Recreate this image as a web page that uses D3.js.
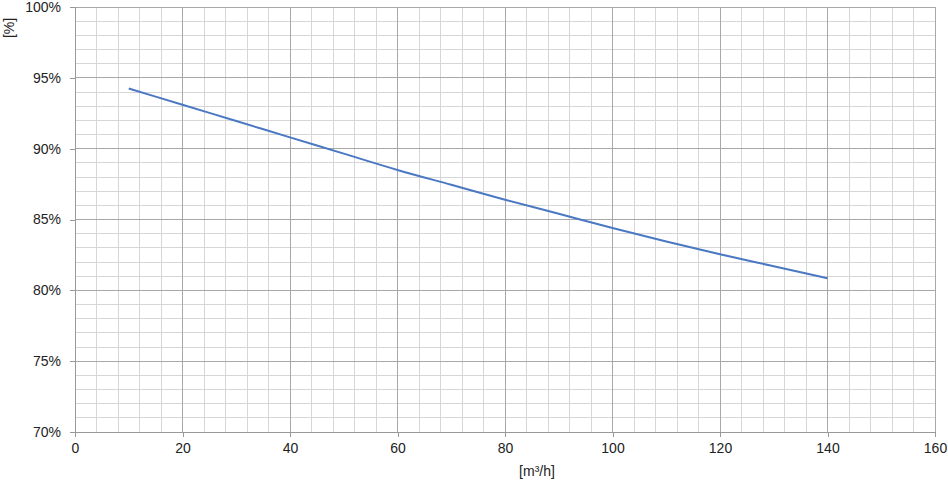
<!DOCTYPE html>
<html><head><meta charset="utf-8">
<script src="https://cdn.jsdelivr.net/npm/d3@7"></script>
<style>body{margin:0;background:#fff}svg{display:block}text{font-family:"Liberation Sans",Arial,sans-serif;fill:#222}</style>
</head><body>
<svg id="c" width="948" height="486"></svg>
<script>
const flowRate = [10, 20, 30, 40, 50, 60, 70, 80, 90, 100, 110, 120, 130, 140];
const efficiency = [94.25, 93.1, 91.95, 90.8, 89.65, 88.5, 87.45, 86.4, 85.4, 84.4, 83.45, 82.55, 81.7, 80.85];
const xTicks = [0, 20, 40, 60, 80, 100, 120, 140, 160];
const yTicks = [70, 75, 80, 85, 90, 95, 100];
const xLabel = "[m³/h]";
const yLabel = "[%]";

const svg = d3.select("#c");
const m = {l: 75, r: 13, t: 7, b: 54};
const W = 948, H = 486;
const x = d3.scaleLinear().domain([0, 160]).range([m.l, W - m.r]);
const y = d3.scaleLinear().domain([70, 100]).range([H - m.b, m.t]);

const g = svg.append("g");
// minor grid
const xMinor = d3.range(0, 161, 4).filter(v => v % 20 !== 0);
const yMinor = d3.range(70, 101, 1).filter(v => v % 5 !== 0);
g.selectAll(".xm").data(xMinor).join("line")
  .attr("x1", d => x(d)).attr("x2", d => x(d)).attr("y1", y(70)).attr("y2", y(100))
  .attr("stroke", "#d6d6d6").attr("stroke-width", 1).attr("shape-rendering", "crispEdges");
g.selectAll(".ym").data(yMinor).join("line")
  .attr("y1", d => y(d)).attr("y2", d => y(d)).attr("x1", x(0)).attr("x2", x(160))
  .attr("stroke", "#d6d6d6").attr("stroke-width", 1).attr("shape-rendering", "crispEdges");
// major grid
g.selectAll(".xM").data(xTicks).join("line")
  .attr("x1", d => x(d)).attr("x2", d => x(d)).attr("y1", y(70)).attr("y2", y(100))
  .attr("stroke", "#a8a8a8").attr("stroke-width", 1).attr("shape-rendering", "crispEdges");
g.selectAll(".yM").data(yTicks).join("line")
  .attr("y1", d => y(d)).attr("y2", d => y(d)).attr("x1", x(0)).attr("x2", x(160))
  .attr("stroke", "#a8a8a8").attr("stroke-width", 1).attr("shape-rendering", "crispEdges");

// axes
const xAxis = d3.axisBottom(x).tickValues(xTicks).tickSize(5).tickPadding(6).tickFormat(d3.format("d"));
const yAxis = d3.axisLeft(y).tickValues(yTicks).tickSize(5).tickPadding(9).tickFormat(d => d + "%");
const gx = svg.append("g").attr("transform", `translate(0,${y(70)})`).call(xAxis);
const gy = svg.append("g").attr("transform", `translate(${x(0)},0)`).call(yAxis);
[gx, gy].forEach(a => {
  a.select(".domain").attr("stroke", "#999").attr("shape-rendering", "crispEdges");
  a.selectAll(".tick line").attr("stroke", "#999").attr("shape-rendering", "crispEdges");
  a.selectAll("text").attr("font-size", 14).attr("fill", "#222").attr("font-family", "Liberation Sans, Arial, sans-serif");
});

// line
const line = d3.line().x((d, i) => x(flowRate[i])).y(d => y(d)).curve(d3.curveMonotoneX);
svg.append("path").datum(efficiency).attr("d", line)
  .attr("fill", "none").attr("stroke", "#4a78c2").attr("stroke-width", 2);

// axis labels
svg.append("text").attr("x", 537).attr("y", 476).attr("text-anchor", "middle")
  .attr("font-size", 14).text(xLabel);
svg.append("text").attr("transform", "translate(14,28) rotate(-90)").attr("text-anchor", "middle")
  .attr("font-size", 14).text(yLabel);
</script>
</body></html>
